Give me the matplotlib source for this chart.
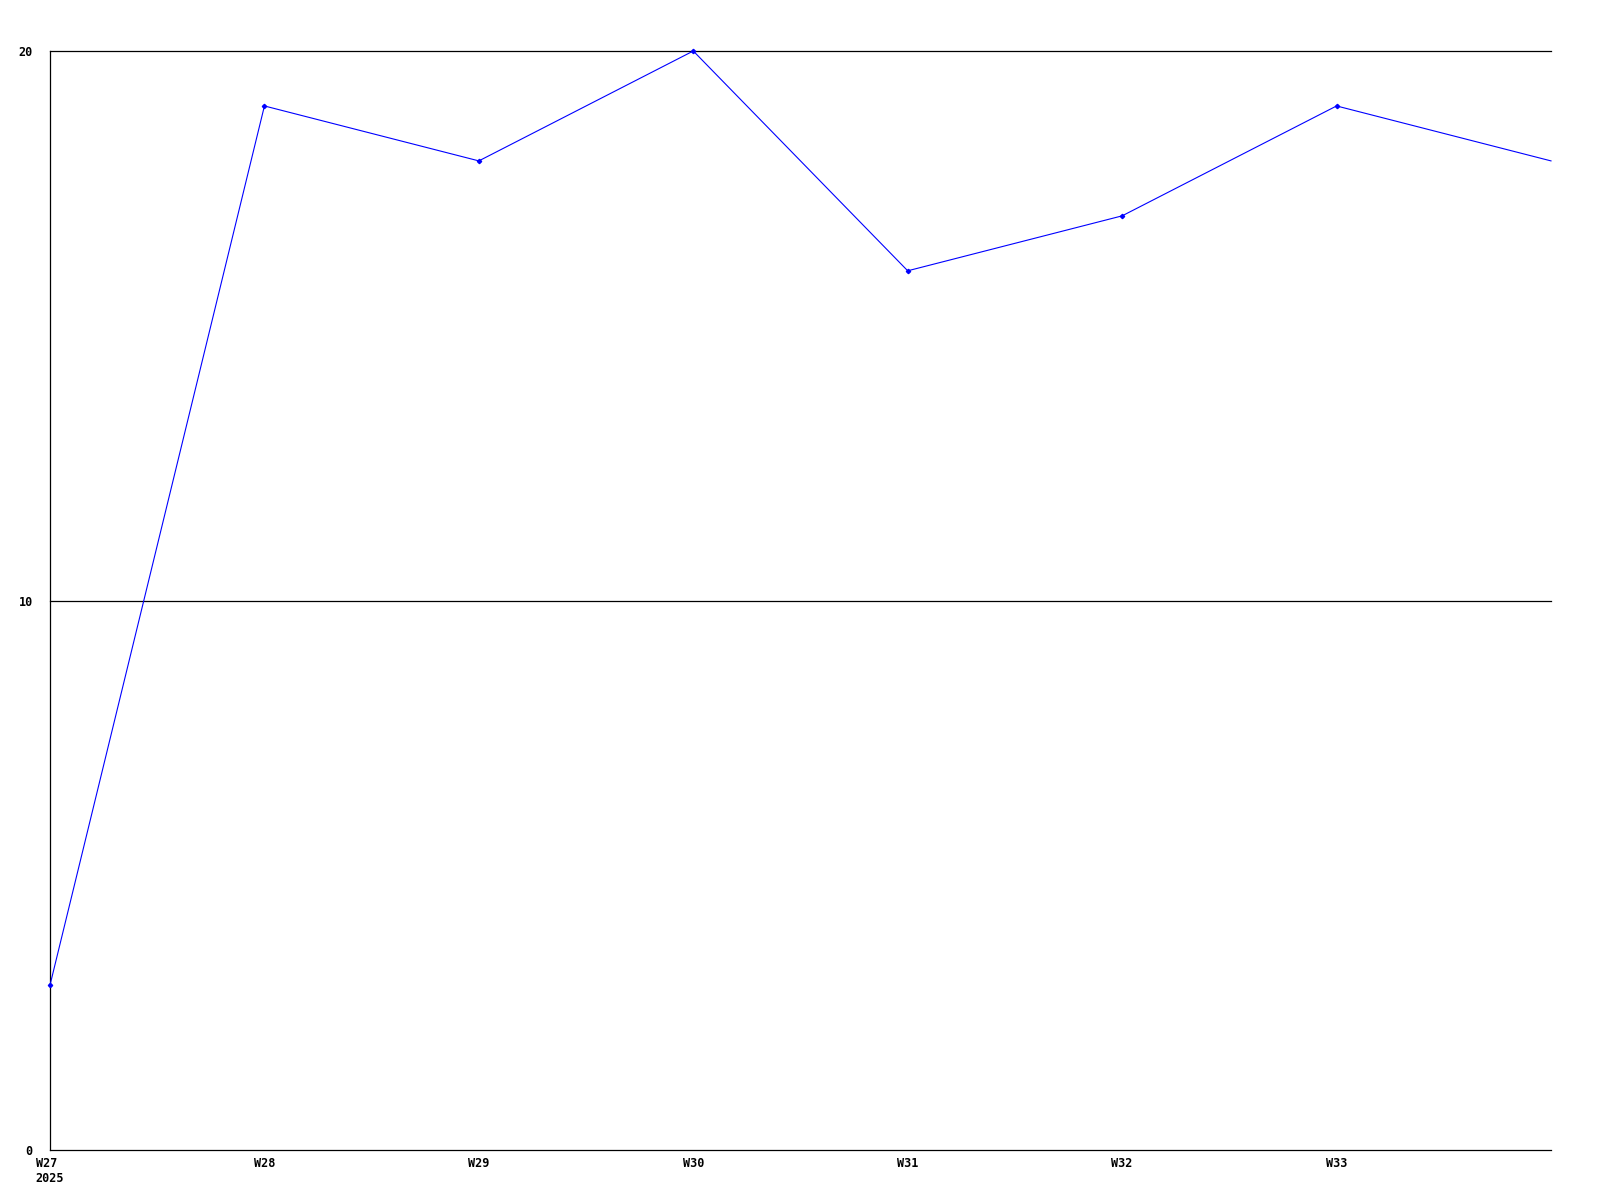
import matplotlib.pyplot as plt

weeks = ['W27\n2025', 'W28', 'W29', 'W30', 'W31', 'W32', 'W33', '']
values = [3, 19, 18, 20, 16, 17, 19, 18]
y_ticks = [0, 10, 20]

fig = plt.figure(figsize=(16, 12), dpi=100)
ax = fig.add_axes([50 / 1600, 50 / 1200, 1501 / 1600, 1099 / 1200])

x = list(range(len(values)))
# last point sits on the right edge and shows no marker in the original
ax.plot(x, values, color='#0000ff', linewidth=0.8, marker='D', markersize=2.2,
        markevery=list(range(len(values) - 1)), clip_on=False, zorder=3)

ax.set_xlim(0, len(values) - 1)
ax.set_ylim(0, 20)

for t in y_ticks[1:]:
    ax.axhline(t, color='black', linewidth=0.9, zorder=1, clip_on=False)

ax.set_xticks(x)
ax.set_xticklabels(weeks, fontfamily='DejaVu Sans Mono', fontweight='bold',
                   fontsize=8.5, linespacing=1.25, va='top',
                   multialignment='left')
ax.set_yticks(y_ticks)
ax.set_yticklabels([str(t) for t in y_ticks], fontfamily='DejaVu Sans Mono',
                   fontweight='bold', fontsize=8.5)
ax.tick_params(axis='both', length=0)
ax.tick_params(axis='x', pad=5)
ax.tick_params(axis='y', pad=12.5)

ax.spines['top'].set_visible(False)
ax.spines['right'].set_visible(False)
ax.spines['left'].set_linewidth(0.9)
ax.spines['bottom'].set_linewidth(0.9)

fig.savefig('out.png', dpi=100)
